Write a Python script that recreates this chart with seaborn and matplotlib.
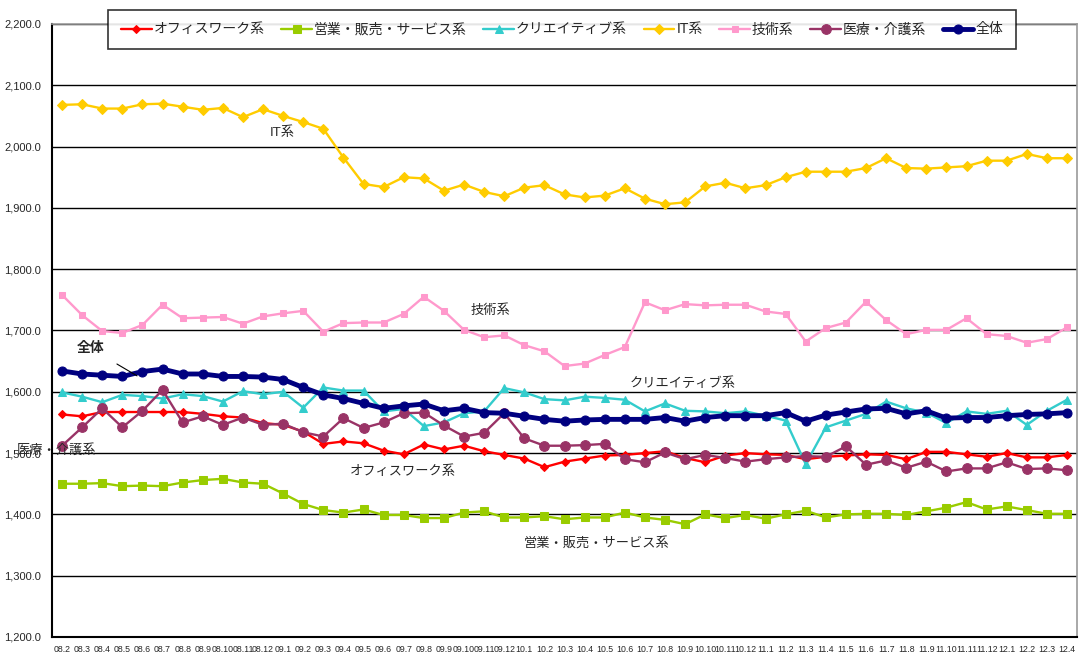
import numpy as np
import pandas as pd
import matplotlib
matplotlib.use("Agg")
import matplotlib.pyplot as plt
import seaborn as sns
from matplotlib.ticker import FuncFormatter, MultipleLocator

# month labels 08.2 ... 12.4
months = (["08.%d" % m for m in range(2, 13)] + ["09.%d" % m for m in range(1, 13)]
          + ["10.%d" % m for m in range(1, 13)] + ["11.%d" % m for m in range(1, 13)]
          + ["12.%d" % m for m in range(1, 5)])

office = [1563, 1560, 1567, 1567, 1567, 1567, 1567, 1564, 1560, 1558, 1549, 1546, 1535, 1515, 1519,
          1516, 1504, 1498, 1514, 1506, 1512, 1503, 1497, 1491, 1477, 1486, 1491, 1496, 1497, 1500,
          1503, 1492, 1485, 1496, 1500, 1498, 1497, 1490, 1494, 1496, 1498, 1497, 1490, 1502, 1502,
          1498, 1494, 1500, 1493, 1493, 1497]
sales = [1450, 1450, 1451, 1446, 1447, 1446, 1452, 1456, 1458, 1452, 1450, 1434, 1417, 1407, 1403,
         1408, 1399, 1399, 1394, 1394, 1403, 1405, 1395, 1395, 1397, 1392, 1395, 1395, 1403, 1395,
         1391, 1384, 1400, 1394, 1399, 1393, 1400, 1406, 1395, 1400, 1401, 1401, 1399, 1405, 1411,
         1420, 1408, 1413, 1407, 1401, 1401]
creative = [1599, 1592, 1583, 1595, 1593, 1589, 1596, 1593, 1584, 1601, 1596, 1600, 1574, 1607, 1602,
            1602, 1568, 1572, 1544, 1550, 1565, 1568, 1606, 1599, 1588, 1586, 1592, 1590, 1587, 1568,
            1581, 1569, 1568, 1565, 1568, 1561, 1553, 1482, 1542, 1553, 1564, 1584, 1573, 1566, 1549,
            1568, 1564, 1569, 1546, 1569, 1587]
it = [2068, 2069, 2062, 2062, 2069, 2070, 2065, 2060, 2063, 2048, 2061, 2050, 2040, 2029, 1982,
      1939, 1934, 1950, 1948, 1928, 1938, 1926, 1919, 1933, 1937, 1922, 1917, 1920, 1932, 1915,
      1906, 1909, 1935, 1941, 1932, 1937, 1950, 1959, 1959, 1959, 1965, 1981, 1965, 1964, 1966,
      1968, 1977, 1977, 1988, 1981, 1981]
tech = [1758, 1725, 1699, 1696, 1709, 1742, 1720, 1721, 1722, 1711, 1723, 1728, 1732, 1698, 1712,
        1713, 1713, 1727, 1755, 1732, 1701, 1689, 1692, 1676, 1666, 1642, 1646, 1660, 1673, 1746,
        1733, 1743, 1741, 1742, 1742, 1731, 1727, 1682, 1704, 1713, 1747, 1717, 1694, 1701, 1701,
        1720, 1694, 1691, 1680, 1686, 1705]
medical = [1512, 1542, 1573, 1542, 1569, 1603, 1550, 1560, 1546, 1558, 1546, 1548, 1534, 1527, 1557,
           1541, 1550, 1565, 1566, 1545, 1527, 1533, 1565, 1524, 1512, 1512, 1513, 1515, 1490, 1485,
           1501, 1490, 1497, 1492, 1486, 1490, 1493, 1495, 1494, 1511, 1481, 1488, 1476, 1486, 1470,
           1475, 1475, 1485, 1474, 1475, 1472]
overall = [1634, 1629, 1627, 1625, 1633, 1637, 1629, 1629, 1625, 1625, 1624, 1620, 1607, 1595, 1589,
           1581, 1573, 1577, 1580, 1569, 1573, 1566, 1565, 1560, 1555, 1552, 1554, 1555, 1555, 1555,
           1558, 1552, 1558, 1561, 1561, 1561, 1566, 1552, 1562, 1567, 1572, 1573, 1564, 1569, 1557,
           1558, 1558, 1561, 1563, 1564, 1566]

series_names = ["オフィスワーク系", "営業・販売・サービス系", "クリエイティブ系", "IT系",
                "技術系", "医療・介護系", "全体"]
series_vals = [office, sales, creative, it, tech, medical, overall]

sns.set_style("white")
plt.rcParams["font.family"] = ["Liberation Sans", "Noto Sans CJK JP"]

# name -> (color, marker, markersize, linewidth)
styles = {
    "オフィスワーク系": ("#FF0000", "D", 4.2, 1.7),
    "営業・販売・サービス系": ("#99CC00", "s", 5.5, 1.7),
    "クリエイティブ系": ("#33CCCC", "^", 6, 1.7),
    "IT系": ("#FFCC00", "D", 5.5, 1.7),
    "技術系": ("#FF99CC", "s", 4.8, 1.7),
    "医療・介護系": ("#993366", "o", 7, 1.7),
    "全体": ("#000080", "o", 6.5, 3.5),
}

fig = plt.figure(figsize=(10.79, 6.55), dpi=100)
ax = fig.add_axes([0.0482, 0.0275, 0.9500, 0.9359])

x = np.arange(len(months))
for name, vals in zip(series_names, series_vals):
    c, m, ms, lw = styles[name]
    df = pd.DataFrame({"x": x, "y": vals})
    sns.lineplot(data=df, x="x", y="y", ax=ax, color=c, marker=m, markersize=ms,
                 markeredgecolor=c, linewidth=lw, label=name, zorder=3)

ax.set_xlim(-0.5, len(months) - 0.5)
ax.set_ylim(1200, 2200)
ax.yaxis.set_major_locator(MultipleLocator(100))
ax.yaxis.set_major_formatter(FuncFormatter(lambda v, p: f"{v:,.1f}"))
ax.grid(axis="y", color="black", linewidth=1.0, zorder=0)
ax.set_xticks(x)
ax.set_xticklabels(months, fontsize=6.3)
ax.set_xticks(np.arange(-0.5, len(months), 1), minor=True)
ax.tick_params(axis="x", which="major", length=0, pad=6)
ax.tick_params(axis="x", which="minor", length=3, direction="in", color="black")
ax.tick_params(axis="y", length=0, labelsize=8, pad=8)
ax.set_xlabel("")
ax.set_ylabel("")

for s in ["left", "bottom"]:
    ax.spines[s].set_color("black")
    ax.spines[s].set_linewidth(1.5)
for s in ["top", "right"]:
    ax.spines[s].set_color("#999999")
    ax.spines[s].set_linewidth(1.2)

leg = ax.legend(loc="center", bbox_to_anchor=(0.521, 0.955), bbox_transform=fig.transFigure,
                ncol=7, fontsize=10, frameon=True, fancybox=False, handlelength=2.2,
                columnspacing=1.2, handletextpad=0.15, borderpad=0.9)
leg.get_frame().set_edgecolor("black")
leg.get_frame().set_linewidth(1.2)
leg.set_zorder(10)

# labels in the plot
ax.text(10.95, 2022, "IT系", fontsize=9.5, ha="center", va="center")
ax.text(21.3, 1733, "技術系", fontsize=9.5, ha="center", va="center")
ax.text(30.9, 1614, "クリエイティブ系", fontsize=9.5, ha="center", va="center")
ax.text(16.97, 1469, "オフィスワーク系", fontsize=9.5, ha="center", va="center")
ax.text(26.6, 1353, "営業・販売・サービス系", fontsize=9.5, ha="center", va="center")
ax.text(-2.25, 1505, "医療・介護系", fontsize=9.5, ha="left", va="center", zorder=5)
ax.annotate("全体", xy=(3.73, 1626), xytext=(1.4, 1671), fontsize=10, fontweight="bold",
            ha="center", va="center",
            arrowprops=dict(arrowstyle="-", color="black", lw=0.8, shrinkA=8, shrinkB=0))

fig.savefig("out.png", dpi=100)
